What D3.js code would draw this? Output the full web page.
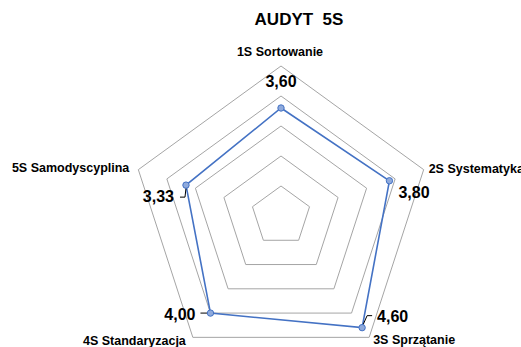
<!DOCTYPE html>
<html>
<head>
<meta charset="utf-8">
<script src="https://cdn.jsdelivr.net/npm/d3@7/dist/d3.min.js"></script>
<style>
  html, body { margin: 0; padding: 0; background: #fff; }
  svg { display: block; }
  text { font-family: "Liberation Sans", Arial, sans-serif; font-weight: bold; fill: #000; }
</style>
</head>
<body>
<script>
// Audit 5S scores per pillar
const categories = ["1S Sortowanie", "2S Systematyka", "3S Sprzątanie", "4S Standaryzacja", "5S Samodyscyplina"];
const scores = [3.60, 3.80, 4.60, 4.00, 3.33];
const ringTicks = [1, 2, 3, 4, 5];
const title = "AUDYT  5S";

const W = 521, H = 347;
const cx = 281, cy = 216, R = 150;

const svg = d3.select("body").append("svg").attr("width", W).attr("height", H);
svg.append("rect").attr("width", W).attr("height", H).attr("fill", "#fff");

const r = d3.scaleLinear().domain([0, 5]).range([0, R]);
const angle = d3.scaleLinear().domain([0, categories.length]).range([0, 2 * Math.PI]);
const pt = (i, v) => [cx + r(v) * Math.sin(angle(i)), cy - r(v) * Math.cos(angle(i))];

// Concentric pentagon gridlines
const gridLine = d3.line();
svg.append("g").selectAll("path").data(ringTicks).join("path")
  .attr("d", t => gridLine(categories.map((c, i) => pt(i, t))) + "Z")
  .attr("fill", "none").attr("stroke", "#a5a5a5").attr("stroke-width", 1);

// Title
svg.append("text").attr("x", 299).attr("y", 25).attr("text-anchor", "middle")
  .style("font-size", "17px").style("white-space", "pre").text(title);

// Category labels around the outer ring
const catLayout = [
  { anchor: "middle", dx: -1, dy: -10 },
  { anchor: "start", dx: 5, dy: 3 },
  { anchor: "start", dx: 4, dy: 7 },
  { anchor: "end", dx: -7, dy: 8 },
  { anchor: "end", dx: -9, dy: 2 }
];
svg.append("g").selectAll("text").data(categories).join("text")
  .attr("x", (c, i) => pt(i, 5)[0] + catLayout[i].dx)
  .attr("y", (c, i) => pt(i, 5)[1] + catLayout[i].dy)
  .attr("text-anchor", (c, i) => catLayout[i].anchor)
  .style("font-size", "12.5px")
  .text(c => c);

// Series polygon
const series = svg.append("g");
series.append("path")
  .attr("d", gridLine(scores.map((v, i) => pt(i, v))) + "Z")
  .attr("fill", "none").attr("stroke", "#4472c4").attr("stroke-width", 1.6);

// Value labels with leader lines
const fmt = v => d3.format(".2f")(v).replace(".", ",");
const valLayout = [
  { anchor: "middle", dx: 0, dy: -21, leader: null },
  { anchor: "start", dx: 9, dy: 17, leader: null },
  { anchor: "start", dx: 15, dy: -6, leader: [[1, -3], [5, -12], [10, -12]] },
  { anchor: "end", dx: -15, dy: 7, leader: [[-2, 0], [-10, 0]] },
  { anchor: "end", dx: -12, dy: 17, leader: [[0, 3], [-1, 12], [-6, 12]] }
];
scores.forEach((v, i) => {
  const [x, y] = pt(i, v);
  const L = valLayout[i];
  if (L.leader) {
    series.append("path")
      .attr("d", d3.line()(L.leader.map(([a, b]) => [x + a, y + b])))
      .attr("fill", "none").attr("stroke", "#000").attr("stroke-width", 1);
  }
  series.append("text").attr("x", x + L.dx).attr("y", y + L.dy)
    .attr("text-anchor", L.anchor).style("font-size", "16px").text(fmt(v));
});

// Markers
series.selectAll("circle").data(scores).join("circle")
  .attr("cx", (v, i) => pt(i, v)[0]).attr("cy", (v, i) => pt(i, v)[1])
  .attr("r", 3.2).attr("fill", "#8faadc").attr("stroke", "#4472c4").attr("stroke-width", 1);
</script>
</body>
</html>
